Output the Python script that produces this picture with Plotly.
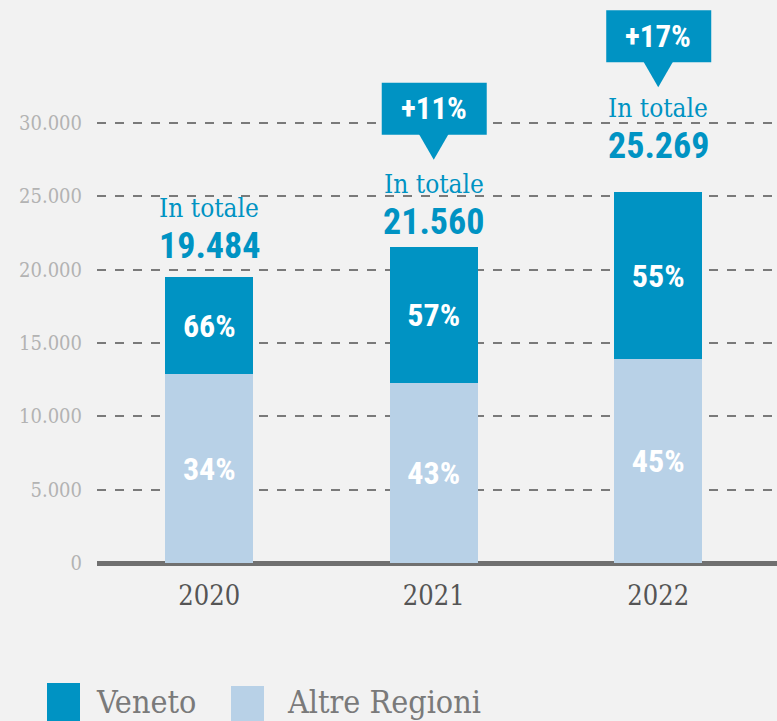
import plotly.graph_objects as go

years = ["2020", "2021", "2022"]
totals = [19484, 21560, 25269]
bottom_vals = [12859, 12289, 13898]   # lower (light) segment
top_vals = [6625, 9271, 11371]        # upper (dark) segment
bottom_labels = ["34%", "43%", "45%"]
top_labels = ["66%", "57%", "55%"]
total_labels = ["19.484", "21.560", "25.269"]
growth_labels = [None, "+11%", "+17%"]
y_tickvals = [0, 5000, 10000, 15000, 20000, 25000, 30000]
y_ticktext = ["0", "5.000", "10.000", "15.000", "20.000", "25.000", "30.000"]
legend_names = ["Veneto", "Altre Regioni"]

DARK = "#0093c3"
LIGHT = "#b8d1e7"
BG = "#f2f2f2"
SLAB = "Roboto Slab, DejaVu Serif Condensed, DejaVu Serif, serif"
COND = "Roboto Condensed, Liberation Sans Narrow, DejaVu Sans Condensed, sans-serif"

x = list(range(len(years)))

fig = go.Figure()
fig.add_trace(go.Bar(
    x=x, y=bottom_vals, marker=dict(color=LIGHT, line=dict(width=0)),
    width=0.392, text=bottom_labels, textposition="inside", insidetextanchor="middle",
    textfont=dict(family=COND, size=32, color="white", weight="bold"), name=legend_names[1],
    showlegend=False, hoverinfo="skip"))
fig.add_trace(go.Bar(
    x=x, y=top_vals, marker=dict(color=DARK, line=dict(width=0)),
    width=0.392, text=top_labels, textposition="inside", insidetextanchor="middle",
    textfont=dict(family=COND, size=32, color="white", weight="bold"), name=legend_names[0],
    showlegend=False, hoverinfo="skip"))

annotations = []
shapes = []
total_shift = [31, 25, 46]
intot_shift = [69, 63, 84]
box_top = [None, 164, 182]
for i in x:
    annotations.append(dict(x=i, y=totals[i], xref="x", yref="y", text=total_labels[i],
                            showarrow=False, yshift=total_shift[i], yanchor="middle",
                            font=dict(family=COND, size=36, color=DARK, weight="bold")))
    annotations.append(dict(x=i, y=totals[i], xref="x", yref="y", text="In totale",
                            showarrow=False, yshift=intot_shift[i], yanchor="middle",
                            font=dict(family=SLAB, size=26, color=DARK)))
    if growth_labels[i]:
        t = box_top[i]
        shapes.append(dict(type="rect", xref="x", yref="y", xsizemode="pixel", ysizemode="pixel",
                           xanchor=i, yanchor=totals[i], x0=-52, x1=53, y0=t - 52, y1=t,
                           fillcolor=DARK, line=dict(width=0), layer="above"))
        shapes.append(dict(type="path", xref="x", yref="y", xsizemode="pixel", ysizemode="pixel",
                           xanchor=i, yanchor=totals[i],
                           path=f"M -15 {t-51} L 15 {t-51} L 0 {t-77} Z",
                           fillcolor=DARK, line=dict(width=0), layer="above"))
        annotations.append(dict(x=i, y=totals[i], xref="x", yref="y", text=growth_labels[i],
                                showarrow=False, yshift=t - 26, yanchor="middle",
                                font=dict(family=COND, size=31, color="white", weight="bold")))

# legend drawn manually
shapes.append(dict(type="rect", xref="paper", yref="paper", xsizemode="pixel", ysizemode="pixel",
                   xanchor=0, yanchor=0, x0=47 - 97, x1=80 - 97, y0=-(725 - 563), y1=-(683 - 563),
                   fillcolor=DARK, line=dict(width=0)))
shapes.append(dict(type="rect", xref="paper", yref="paper", xsizemode="pixel", ysizemode="pixel",
                   xanchor=0, yanchor=0, x0=231 - 97, x1=264 - 97, y0=-(725 - 563), y1=-(686 - 563),
                   fillcolor=LIGHT, line=dict(width=0)))
annotations.append(dict(x=0, y=0, xref="paper", yref="paper", text=legend_names[0], showarrow=False,
                        xanchor="left", yanchor="middle", xshift=94 - 97, yshift=-(702 - 563),
                        font=dict(family=SLAB, size=32, color="#7a7a7a")))
annotations.append(dict(x=0, y=0, xref="paper", yref="paper", text=legend_names[1], showarrow=False,
                        xanchor="left", yanchor="middle", xshift=285 - 97, yshift=-(702 - 563),
                        font=dict(family=SLAB, size=32, color="#7a7a7a")))

fig.update_layout(
    barmode="stack",
    width=777, height=721,
    margin=dict(l=97, r=0, t=10, b=158),
    paper_bgcolor=BG, plot_bgcolor=BG,
    showlegend=False,
    shapes=shapes, annotations=annotations,
    xaxis=dict(range=[-0.5, 2.529], tickvals=x, ticktext=years, showgrid=False, zeroline=False,
               showline=False, ticks="", ticklabelstandoff=14,
               tickfont=dict(family=SLAB, size=27, color="#555555")),
    yaxis=dict(range=[0, 37700], tickvals=y_tickvals, ticktext=y_ticktext,
               showgrid=True, gridcolor="#7a7a7a", gridwidth=2, griddash="dash",
               zeroline=True, zerolinecolor="#707070", zerolinewidth=5,
               showline=False, ticks="", ticklabelstandoff=14,
               tickfont=dict(family=SLAB, size=20, color="#b3b3b3")),
)

fig.write_html("out.html", config={"displayModeBar": False},
               post_script="document.body.style.margin='0';document.body.style.overflow='hidden';document.body.style.background='#f2f2f2';")
